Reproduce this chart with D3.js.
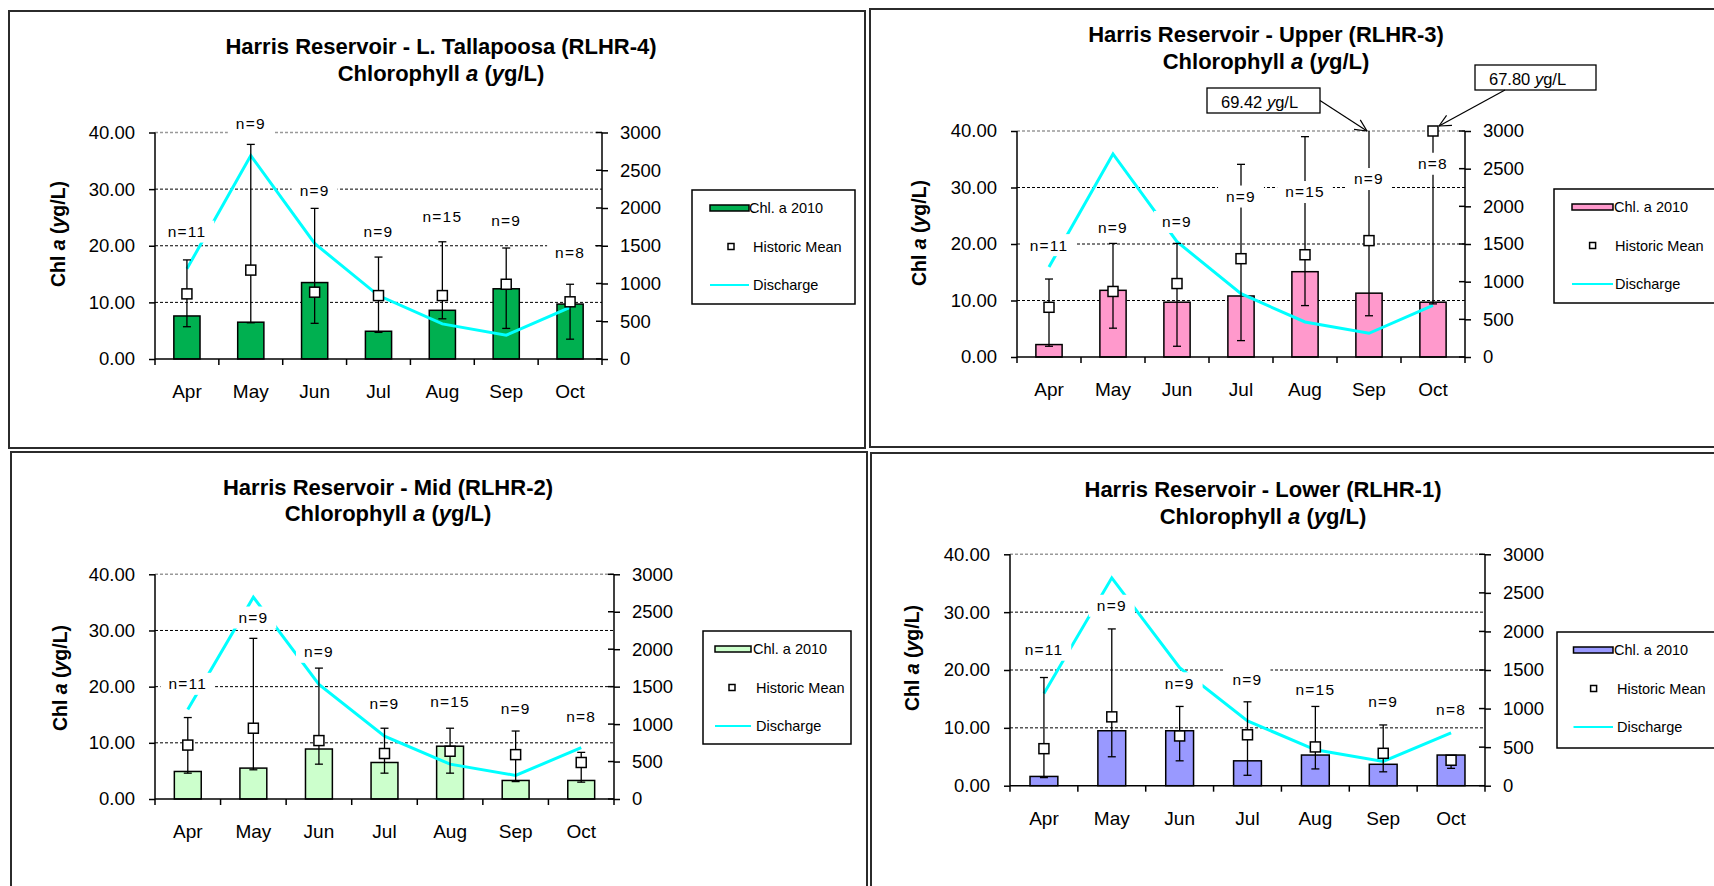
<!DOCTYPE html>
<html><head><meta charset="utf-8">
<script src="https://cdn.jsdelivr.net/npm/d3@7"></script>
<style>
html,body{margin:0;padding:0;background:#fff;overflow:hidden}
svg{display:block;font-family:Arial,"Liberation Sans",sans-serif}
</style></head><body>
<svg id="c" width="1714" height="886"></svg>
<script>
// ---------- data ----------
const months = ["Apr","May","Jun","Jul","Aug","Sep","Oct"];
const nCounts = [11, 9, 9, 9, 15, 9, 8];
const discharge = [1195, 2695, 1530, 840, 465, 315, 685];
const leftTicks = [0, 10, 20, 30, 40];
const rightTicks = [0, 500, 1000, 1500, 2000, 2500, 3000];

// L. Tallapoosa (RLHR-4)
const chl_RLHR4  = [7.6, 6.5, 13.5, 4.9, 8.6, 12.4, 9.7];
const mean_RLHR4 = [11.5, 15.7, 11.8, 11.2, 11.2, 13.2, 10.1];
const lo_RLHR4   = [5.7, 6.4, 6.3, 4.7, 7.1, 5.4, 3.5];
const hi_RLHR4   = [17.5, 37.9, 26.6, 18.0, 20.7, 19.6, 13.2];
const nAt_RLHR4  = [22.5, 41.6, 29.8, 22.5, 25.1, 24.4, 18.8];

// Upper (RLHR-3)
const chl_RLHR3  = [2.2, 11.8, 9.7, 10.8, 15.1, 11.3, 9.7];
const mean_RLHR3 = [8.8, 11.6, 13.0, 17.4, 18.1, 20.6, 67.80];
const lo_RLHR3   = [1.9, 5.1, 1.9, 2.9, 9.1, 7.3, 9.4];
const hi_RLHR3   = [13.8, 20.1, 20.1, 34.1, 39.0, 69.42, 75.0];
const nAt_RLHR3  = [19.8, 22.9, 23.9, 28.4, 29.2, 31.5, 34.2];

// Mid (RLHR-2)
const chl_RLHR2  = [4.9, 5.5, 8.9, 6.5, 9.4, 3.3, 3.3];
const mean_RLHR2 = [9.6, 12.6, 10.4, 8.1, 8.5, 7.9, 6.5];
const lo_RLHR2   = [4.6, 5.2, 6.2, 4.6, 4.6, 3.1, 3.0];
const hi_RLHR2   = [14.5, 28.6, 23.3, 12.6, 12.6, 12.1, 8.3];
const nAt_RLHR2  = [20.5, 32.3, 26.2, 16.9, 17.3, 16.1, 14.7];

// Lower (RLHR-1)
const chl_RLHR1  = [1.6, 9.5, 9.5, 4.3, 5.3, 3.7, 5.3];
const mean_RLHR1 = [6.4, 11.9, 8.6, 8.8, 6.7, 5.6, 4.4];
const lo_RLHR1   = [1.4, 5.0, 4.3, 1.8, 2.9, 2.4, 3.0];
const hi_RLHR1   = [18.7, 27.1, 13.7, 14.5, 13.7, 10.5, 5.0];
const nAt_RLHR1  = [23.5, 31.1, 17.7, 18.4, 16.7, 14.5, 13.1];

const legendLabels = ["Chl. a 2010", "Historic Mean", "Discharge"];
const annotations_RLHR3 = [
  {month: "Sep", text: "69.42 ", unit: "y", rest: "g/L", target: "err"},
  {month: "Oct", text: "67.80 ", unit: "y", rest: "g/L", target: "mean"}
];

// ---------- panels (layout) ----------
const panels = [
  {title: "Harris Reservoir - L. Tallapoosa (RLHR-4)", color: "#00B050",
   chl: chl_RLHR4, mean: mean_RLHR4, lo: lo_RLHR4, hi: hi_RLHR4, nAt: nAt_RLHR4,
   box: {x: 9, y: 11, w: 856, h: 437}, plot: {l: 155, r: 602, t: 132.5, b: 359},
   titleY: [54, 81], titleX: 441,
   legend: {x: 692, y: 190, w: 163, h: 114, sw: 18, swW: 39, mk: 39, tx0: 57, tx: 61}, ylab: {x: 58, y: 234}},
  {title: "Harris Reservoir - Upper (RLHR-3)", color: "#FF99CC",
   chl: chl_RLHR3, mean: mean_RLHR3, lo: lo_RLHR3, hi: hi_RLHR3, nAt: nAt_RLHR3, ann: annotations_RLHR3,
   box: {x: 870, y: 9, w: 870, h: 438}, plot: {l: 1017, r: 1465, t: 131, b: 357},
   titleY: [42, 69], titleX: 1266,
   legend: {x: 1554, y: 189, w: 175, h: 114, sw: 18, swW: 41, mk: 38.6, tx0: 60, tx: 61}, ylab: {x: 919, y: 233}},
  {title: "Harris Reservoir - Mid (RLHR-2)", color: "#CCFFCC",
   chl: chl_RLHR2, mean: mean_RLHR2, lo: lo_RLHR2, hi: hi_RLHR2, nAt: nAt_RLHR2,
   box: {x: 11, y: 452, w: 856, h: 450}, plot: {l: 155, r: 614, t: 574.3, b: 799},
   titleY: [495, 521], titleX: 388,
   legend: {x: 703, y: 631, w: 148, h: 113, sw: 12, swW: 36, mk: 29, tx0: 50, tx: 53}, ylab: {x: 60, y: 678}},
  {title: "Harris Reservoir - Lower (RLHR-1)", color: "#9999FF",
   chl: chl_RLHR1, mean: mean_RLHR1, lo: lo_RLHR1, hi: hi_RLHR1, nAt: nAt_RLHR1,
   box: {x: 871, y: 453, w: 870, h: 450}, plot: {l: 1010, r: 1485, t: 554.3, b: 785.7},
   titleY: [497, 524], titleX: 1263,
   legend: {x: 1557, y: 632, w: 175, h: 116, sw: 16.5, swW: 39.5, mk: 36.6, tx0: 57, tx: 60}, ylab: {x: 912, y: 658}}
];

const svg = d3.select("#c");

function drawPanel(p) {
  const g = svg.append("g");
  g.append("rect").attr("x", p.box.x).attr("y", p.box.y).attr("width", p.box.w).attr("height", p.box.h)
    .attr("fill", "#fff").attr("stroke", "#2b2b2b").attr("stroke-width", 2);

  const x = d3.scaleBand().domain(months).range([p.plot.l, p.plot.r]).padding(0);
  const yL = d3.scaleLinear().domain([0, 40]).range([p.plot.b, p.plot.t]);
  const yR = d3.scaleLinear().domain([0, 3000]).range([p.plot.b, p.plot.t]);
  const cx = m => x(m) + x.bandwidth() / 2;
  const clip = v => Math.min(v, 40);

  // gridlines
  g.selectAll(".grid").data(leftTicks.filter(v => v > 0)).join("line")
    .attr("x1", p.plot.l).attr("x2", p.plot.r)
    .attr("y1", d => yL(d)).attr("y2", d => yL(d))
    .attr("stroke", d => d === 40 ? "#999" : "#000")
    .attr("stroke-width", d => d === 40 ? 1.6 : 1)
    .attr("stroke-dasharray", "3,2");

  // bars
  const bw = x.bandwidth() * 0.41;
  g.selectAll(".bar").data(months).join("rect")
    .attr("x", m => cx(m) - bw / 2)
    .attr("y", (m, i) => yL(p.chl[i]))
    .attr("width", bw)
    .attr("height", (m, i) => yL(0) - yL(p.chl[i]))
    .attr("fill", p.color).attr("stroke", "#000").attr("stroke-width", 1.5);

  // axes
  const axL = g.append("g").attr("transform", `translate(${p.plot.l},0)`)
    .call(d3.axisLeft(yL).tickValues(leftTicks).tickFormat(d3.format(".2f")).tickSize(6).tickPadding(14));
  const axR = g.append("g").attr("transform", `translate(${p.plot.r},0)`)
    .call(d3.axisRight(yR).tickValues(rightTicks).tickFormat(d3.format("d")).tickSize(6).tickPadding(12));
  const axB = g.append("g").attr("transform", `translate(0,${p.plot.b})`)
    .call(d3.axisBottom(x).tickSize(0).tickPadding(26));
  [axL, axR, axB].forEach(a => {
    a.select(".domain").remove();
    a.selectAll("line").attr("stroke", "#000").attr("stroke-width", 1.5);
    a.selectAll("text").attr("fill", "#000").attr("font-family", "Arial, 'Liberation Sans', sans-serif");
  });
  axL.selectAll("text").attr("font-size", 18.5);
  axR.selectAll("text").attr("font-size", 18.5);
  axB.selectAll("text").attr("font-size", 19);
  // inner halves of right-axis ticks
  g.selectAll(".rin").data(rightTicks).join("line")
    .attr("x1", p.plot.r - 6).attr("x2", p.plot.r)
    .attr("y1", d => yR(d)).attr("y2", d => yR(d))
    .attr("stroke", "#000").attr("stroke-width", 1.5);
  // axis lines
  g.append("line").attr("x1", p.plot.l).attr("x2", p.plot.l).attr("y1", yL(40)).attr("y2", yL(0)).attr("stroke", "#000").attr("stroke-width", 1.5);
  g.append("line").attr("x1", p.plot.r).attr("x2", p.plot.r).attr("y1", yR(3000)).attr("y2", yR(0)).attr("stroke", "#000").attr("stroke-width", 1.5);
  g.append("line").attr("x1", p.plot.l).attr("x2", p.plot.r).attr("y1", yL(0)).attr("y2", yL(0)).attr("stroke", "#000").attr("stroke-width", 1.5);
  // category boundary ticks
  const edges = months.map(m => x(m)).concat([x.range()[1]]);
  g.selectAll(".xt").data(edges).join("line")
    .attr("x1", d => d).attr("x2", d => d).attr("y1", yL(0)).attr("y2", yL(0) + 6)
    .attr("stroke", "#000").attr("stroke-width", 1.5);

  // discharge line
  const line = d3.line().x((d, i) => cx(months[i])).y(d => yR(d));
  g.append("path").datum(discharge).attr("d", line)
    .attr("fill", "none").attr("stroke", "#00FFFF").attr("stroke-width", 3).attr("stroke-linejoin", "miter");

  // error bars
  months.forEach((m, i) => {
    const c = cx(m), yt = yL(clip(p.hi[i])), yb = yL(p.lo[i]);
    g.append("line").attr("x1", c).attr("x2", c).attr("y1", yt).attr("y2", yb).attr("stroke", "#000").attr("stroke-width", 1.3);
    if (p.hi[i] <= 40)
      g.append("line").attr("x1", c - 4).attr("x2", c + 4).attr("y1", yt).attr("y2", yt).attr("stroke", "#000").attr("stroke-width", 1.3);
    g.append("line").attr("x1", c - 4).attr("x2", c + 4).attr("y1", yb).attr("y2", yb).attr("stroke", "#000").attr("stroke-width", 1.3);
  });

  // historic means
  g.selectAll(".mean").data(months).join("rect")
    .attr("x", m => cx(m) - 5).attr("y", (m, i) => yL(clip(p.mean[i])) - 5)
    .attr("width", 10).attr("height", 10)
    .attr("fill", "#fff").attr("stroke", "#000").attr("stroke-width", 1.5);

  // n labels with white background
  months.forEach((m, i) => {
    const lg = g.append("g");
    const bg = lg.append("rect").attr("fill", "#fff");
    const t = lg.append("text").attr("x", cx(m)).attr("y", yL(p.nAt[i])).attr("dy", "0.35em")
      .attr("text-anchor", "middle").attr("font-size", 15.5).attr("letter-spacing", 1.2)
      .attr("fill", "#000").text("n=" + nCounts[i]);
    const w = t.node().getComputedTextLength() + 16;
    bg.attr("x", cx(m) - w / 2).attr("y", yL(p.nAt[i]) - 11).attr("width", w).attr("height", 22);
  });

  // title
  g.append("text").attr("x", p.titleX).attr("y", p.titleY[0]).attr("text-anchor", "middle")
    .attr("font-size", 22).attr("font-weight", "bold").text(p.title);
  const t2 = g.append("text").attr("x", p.titleX).attr("y", p.titleY[1]).attr("text-anchor", "middle")
    .attr("font-size", 22).attr("font-weight", "bold");
  t2.append("tspan").text("Chlorophyll ");
  t2.append("tspan").attr("font-style", "italic").text("a");
  t2.append("tspan").text(" (");
  t2.append("tspan").attr("font-style", "italic").text("y");
  t2.append("tspan").text("g/L)");

  // y label
  const yl = g.append("text").attr("transform", `translate(${p.ylab.x},${p.ylab.y}) rotate(-90)`)
    .attr("text-anchor", "middle").attr("dy", "0.35em").attr("font-size", 19.5).attr("font-weight", "bold");
  yl.append("tspan").text("Chl ");
  yl.append("tspan").attr("font-style", "italic").text("a");
  yl.append("tspan").text(" (");
  yl.append("tspan").attr("font-style", "italic").text("y");
  yl.append("tspan").text("g/L)");

  // legend
  const L = p.legend;
  g.append("rect").attr("x", L.x).attr("y", L.y).attr("width", L.w).attr("height", L.h)
    .attr("fill", "#fff").attr("stroke", "#000").attr("stroke-width", 1.5);
  const iy = [L.y + 18, L.y + 56.5, L.y + 95];
  g.append("rect").attr("x", L.x + L.sw).attr("y", iy[0] - 3).attr("width", L.swW).attr("height", 6)
    .attr("fill", p.color).attr("stroke", "#000").attr("stroke-width", 1.5);
  g.append("rect").attr("x", L.x + L.mk - 3).attr("y", iy[1] - 3).attr("width", 6).attr("height", 6)
    .attr("fill", "#fff").attr("stroke", "#000").attr("stroke-width", 1.5);
  g.append("line").attr("x1", L.x + L.sw).attr("x2", L.x + L.sw + L.swW).attr("y1", iy[2]).attr("y2", iy[2])
    .attr("stroke", "#00FFFF").attr("stroke-width", 2);
  legendLabels.forEach((lab, k) => {
    g.append("text").attr("x", L.x + (k === 0 ? L.tx0 : L.tx)).attr("y", iy[k]).attr("dy", "0.35em")
      .attr("font-size", 14.5).attr("fill", "#000").text(lab);
  });

  // annotations
  if (p.ann) {
    p.ann.forEach(a => {
      const c = cx(a.month), y40 = yL(40);
      let bx, by, bw2, bh = 25, sx, sy, tx, ty;
      if (a.target === "err") {
        bx = c - 162; by = y40 - 43; bw2 = 113;
        sx = bx + bw2; sy = by + bh / 2; tx = c - 2; ty = y40;
      } else {
        bx = c + 42; by = y40 - 66; bw2 = 121;
        sx = bx + 30; sy = by + bh; tx = c + 6; ty = y40 - 5;
      }
      g.append("rect").attr("x", bx).attr("y", by).attr("width", bw2).attr("height", bh)
        .attr("fill", "#fff").attr("stroke", "#000").attr("stroke-width", 1.3);
      const at = g.append("text").attr("x", bx + 14).attr("y", by + bh - 5).attr("font-size", 16.5).attr("fill", "#000");
      at.append("tspan").text(a.text);
      at.append("tspan").attr("font-style", "italic").text(a.unit);
      at.append("tspan").text(a.rest);
      g.append("line").attr("x1", sx).attr("y1", sy).attr("x2", tx).attr("y2", ty).attr("stroke", "#000").attr("stroke-width", 1.2);
      const ang = Math.atan2(ty - sy, tx - sx), hl = 13, sp = 0.45;
      [ang + Math.PI - sp, ang + Math.PI + sp].forEach(b => {
        g.append("line").attr("x1", tx).attr("y1", ty)
          .attr("x2", tx + hl * Math.cos(b)).attr("y2", ty + hl * Math.sin(b))
          .attr("stroke", "#000").attr("stroke-width", 1.2);
      });
    });
  }
}

panels.forEach(drawPanel);
</script>
</body></html>
